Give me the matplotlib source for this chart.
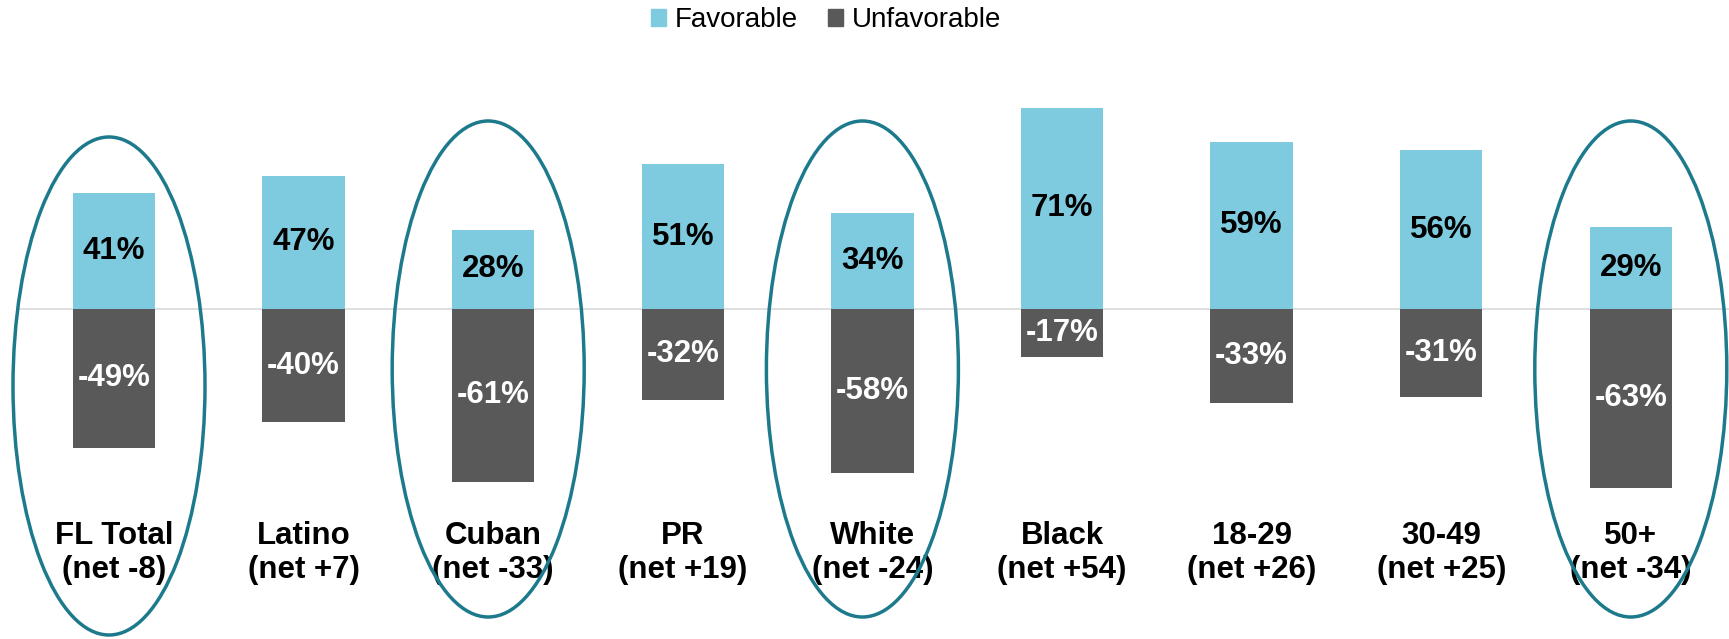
import matplotlib
matplotlib.use("Agg")
import matplotlib.pyplot as plt
from matplotlib.patches import Ellipse, Patch

plt.rcParams["font.family"] = ["Liberation Sans", "DejaVu Sans"]

# ---- data ----
groups = ["FL Total", "Latino", "Cuban", "PR", "White", "Black", "18-29", "30-49", "50+"]
nets = ["-8", "+7", "-33", "+19", "-24", "+54", "+26", "+25", "-34"]
favorable = [41, 47, 28, 51, 34, 71, 59, 56, 29]
unfavorable = [49, 40, 61, 32, 58, 17, 33, 31, 63]
highlighted = ["FL Total", "Cuban", "White", "50+"]

FAV_COLOR = "#7ECBE0"
UNFAV_COLOR = "#595959"
RING_COLOR = "#1D7A8C"
ZERO_COLOR = "#D9D9D9"

# pixel layout of the original slide (1729 x 639)
W, H = 1729, 639
X0, DX = 114, 189.6        # first bar centre / spacing (px)
Y0, DY = 309, 2.835        # zero line (px from top) / px per percent

# ellipse tweaks per highlighted group: (x shift px, centre y px, height px)
ring_style = {
    "FL Total": (-5, 386, 498),
    "Cuban": (-5, 369, 496),
    "White": (-10, 369, 496),
    "50+": (0, 369, 496),
}


def main():
    fig = plt.figure(figsize=(W / 100, H / 100), dpi=100)
    ax = fig.add_axes([0, 0, 1, 1])
    ax.set_xlim(-X0 / DX, (W - X0) / DX)
    ax.set_ylim(-(H - Y0) / DY, Y0 / DY)
    ax.axis("off")

    x = list(range(len(groups)))
    neg = [-v for v in unfavorable]
    bar_w = 82.5 / DX

    ax.plot([(20 - X0) / DX, (W - X0) / DX], [0, 0], color=ZERO_COLOR, lw=1.2, zorder=1)
    ax.bar(x, favorable, width=bar_w, color=FAV_COLOR, zorder=2)
    ax.bar(x, neg, width=bar_w, color=UNFAV_COLOR, zorder=2)

    for i in x:
        ax.text(i, favorable[i] / 2, f"{favorable[i]}%", ha="center", va="center",
                fontsize=22.5, fontweight="bold", color="black", zorder=3)
        ax.text(i, neg[i] / 2, f"{neg[i]}%", ha="center", va="center",
                fontsize=22.5, fontweight="bold", color="white", zorder=3)
        ax.text(i, -(553 - Y0) / DY, f"{groups[i]}\n(net {nets[i]})", ha="center",
                va="center", fontsize=22.5, fontweight="bold", color="black",
                linespacing=1.15, zorder=3)

    for name in highlighted:
        i = groups.index(name)
        shift, cy, h = ring_style[name]
        ring = Ellipse((i + shift / DX, -(cy - Y0) / DY), width=192 / DX, height=h / DY,
                       fill=False, edgecolor=RING_COLOR, lw=2.5, zorder=4)
        ax.add_patch(ring)

    handles = [Patch(color=FAV_COLOR, label="Favorable"),
               Patch(color=UNFAV_COLOR, label="Unfavorable")]
    fig.legend(handles=handles, loc="center", bbox_to_anchor=(826 / W, 1 - 20 / H),
               ncol=2, frameon=False, fontsize=20, handlelength=0.55, handleheight=0.55,
               handletextpad=0.3, columnspacing=1.1, borderpad=0)

    fig.savefig("out.png", dpi=100)
    plt.close(fig)


if __name__ == "__main__":
    main()
